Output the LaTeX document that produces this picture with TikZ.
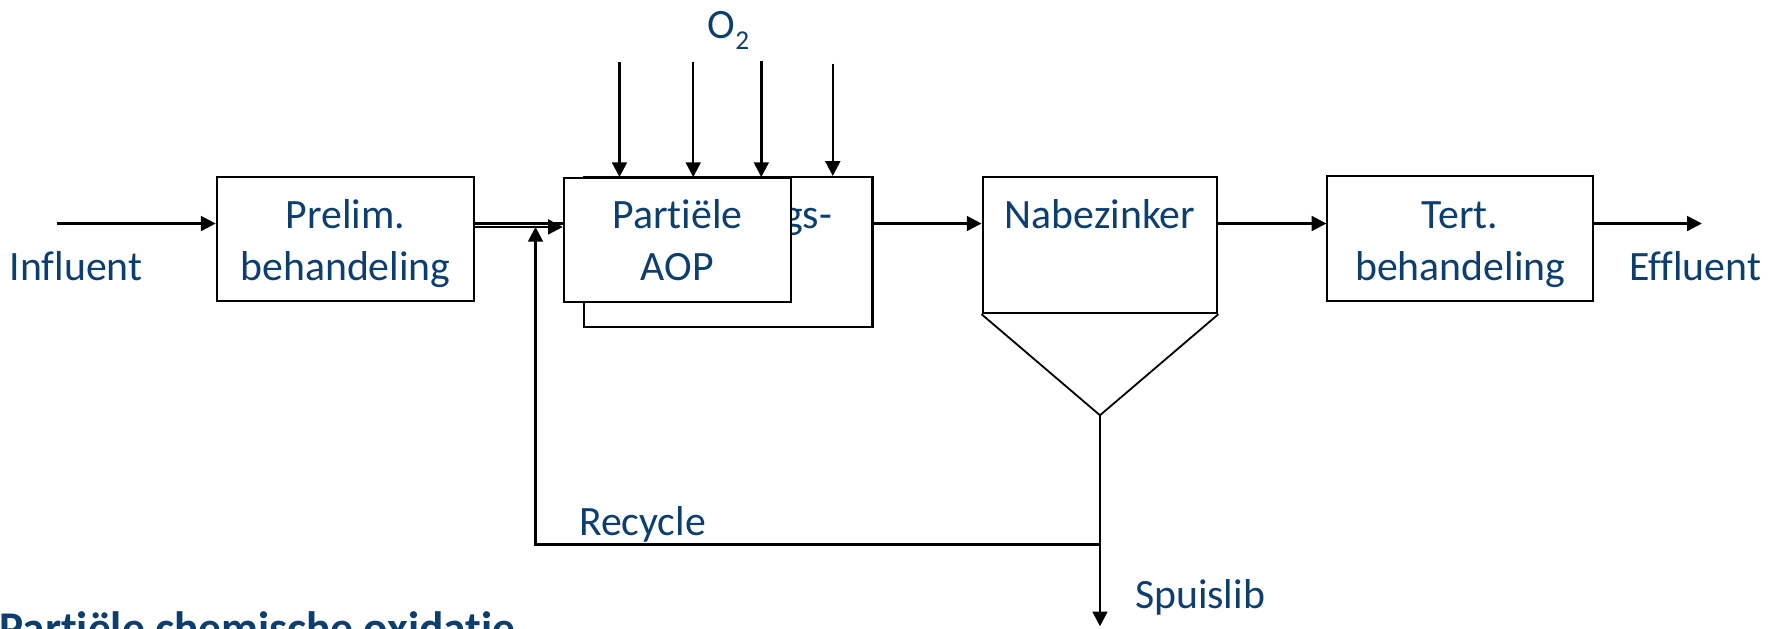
\documentclass[tikz,border=0pt]{standalone}
\usepackage{fontspec}
\setmainfont[Ligatures=CommonOff]{Carlito}
\usetikzlibrary{arrows.meta}
\definecolor{txtblue}{RGB}{12,62,112}
\begin{document}
\begin{tikzpicture}[x=0.5pt,y=-0.5pt,
  box/.style={draw=black, line width=0.9pt, fill=white, inner sep=0pt},
  lbl/.style={text=txtblue, font=\fontsize{18.4}{21}\selectfont, inner sep=0pt, anchor=base},
  flow/.style={draw=black, line width=1.1pt, -{Triangle[length=6.5pt,width=6.5pt]}},
  plain/.style={draw=black, line width=1.1pt},
  thin/.style={draw=black, line width=0.8pt},
]
\useasboundingbox (0,0) rectangle (1568,554);
% boxes
\node[box, minimum width=113.5pt, minimum height=54.5pt] (prelim) at (304.5,210.5) {};
\node[box, minimum width=127pt, minimum height=66pt] (back) at (642,222) {};
\node[lbl, anchor=base west] (gs) at (690,201) {gs-};
\node[box, minimum width=100pt, minimum height=54.5pt] (aop) at (597,211.5) {};
\node[box, minimum width=103.5pt, minimum height=60pt] (nab) at (969.5,216) {};
\node[box, minimum width=117pt, minimum height=55pt] (tert) at (1287,210) {};
% labels
\node[lbl] (tPrelim) at (304.5,201) {Prelim.};
\node[lbl] (tPrelimB) at (304.5,247) {behandeling};
\node[lbl] (tInf) at (67,247) {Influent};
\node[lbl] (tPart) at (597,201) {Partiële};
\node[lbl] (tAOP) at (597,247) {AOP};
\node[lbl] (tNab) at (969.5,201) {Nabezinker};
\node[lbl] (tTert) at (1287,201) {Tert.};
\node[lbl] (tTertB) at (1287,247) {behandeling};
\node[lbl] (tEff) at (1494,247) {Effluent};
\node[lbl] (tO2) at (642,34) {O\raisebox{-0.55ex}{\fontsize{12}{14}\selectfont 2}};
\node[lbl, anchor=base west] (tRec) at (510,472) {Recycle};
\node[lbl, anchor=base west] (tSpui) at (1000,536) {Spuislib};
\node[lbl, anchor=base west, font=\bfseries\fontsize{20}{24}\selectfont] (tTitle) at (-1,567) {Partiële chemische oxidatie};
% coordinates
\coordinate (yA) at (0,197);
\coordinate (yB) at (0,200);
\coordinate (inStart) at (50,197);
\coordinate (effEnd) at (1500,197);
\coordinate (tip) at (969.5,366);
\coordinate (spuiEnd) at (969.5,552);
\coordinate (recCorner) at (472,480);
\coordinate (recJoin) at (969.5,480);
\coordinate (o1) at (546,55);
\coordinate (o2) at (611,55);
\coordinate (o3) at (671,54);
\coordinate (o4) at (734,56);
% connectors
\draw[flow] (inStart) -- (inStart -| prelim.west);
\draw[plain] (prelim.east |- yA) -- (aop.west |- yA);
\draw[flow] (prelim.east |- yB) -- (aop.west |- yB);
\draw[flow] (recJoin) -- (recCorner) -- (recCorner |- yB);
\draw[flow] (o1) -- (o1 |- aop.north);
\draw[flow] (o2) -- (o2 |- aop.north);
\draw[flow] (o3) -- (o3 |- aop.north);
\draw[flow] (o4) -- (o4 |- back.north);
\draw[flow] (back.east |- yA) -- (nab.west |- yA);
\draw[thin] (nab.south west) -- (tip) -- (nab.south east);
\draw[flow] (tip) -- (spuiEnd);
\draw[flow] (nab.east |- yA) -- (tert.west |- yA);
\draw[flow] (tert.east |- yA) -- (effEnd);
\end{tikzpicture}
\end{document}
